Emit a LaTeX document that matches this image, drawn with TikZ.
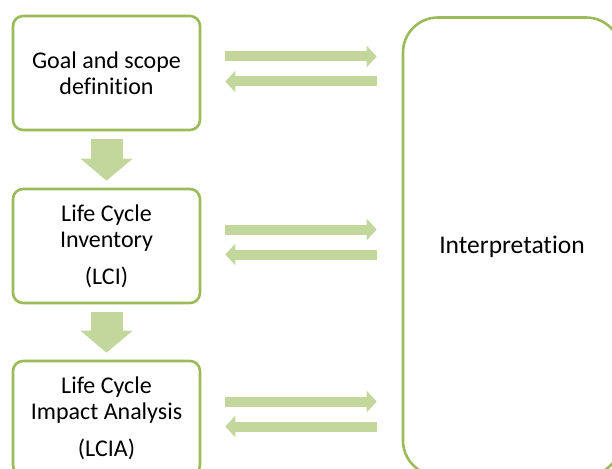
\documentclass[tikz,border=0pt]{standalone}
\usepackage{fontspec}
\setmainfont[Ligatures=NoCommon]{Carlito}
\usetikzlibrary{arrows.meta,calc}
\definecolor{boxgreen}{HTML}{9BBB59}
\definecolor{arrowgreen}{HTML}{C3D69B}
\tikzset{
  stagebox/.style={draw=boxgreen, line width=2.6pt, rounded corners=10pt, fill=white,
    minimum width=187pt, minimum height=114pt, align=center, font=\fontsize{24}{26}\selectfont, inner sep=0pt},
  interpbox/.style={draw=boxgreen, line width=2.6pt, rounded corners=35pt, fill=white,
    minimum width=218pt, minimum height=458pt, font=\fontsize{25.5}{28}\selectfont, inner sep=0pt},
  harrow/.style={draw=arrowgreen, line width=10pt, -{Triangle[width=21pt,length=10pt]}},
  varrow/.style={draw=arrowgreen, line width=32pt, -{Triangle[width=51pt,length=22pt]}}
}
\begin{document}
\begin{tikzpicture}[x=1pt,y=-1pt]
\useasboundingbox (0,0) rectangle (612,468);
\clip (0,0) rectangle (612,468);
\node[stagebox] (goal) at (106.5,73) {Goal and scope\\definition};
\node[stagebox] (lci) at (106.5,246) {Life Cycle\\Inventory\\[11pt](LCI)};
\node[stagebox] (lcia) at (106.5,418) {Life Cycle\\Impact Analysis\\[11pt](LCIA)};
\node[interpbox] (interp) at (512,246.5) {Interpretation};
% vertical arrows
\draw[varrow] ($(goal.south)+(0,8)$) -- ($(lci.north)+(0,-7)$);
\draw[varrow] ($(lci.south)+(0,8)$) -- ($(lcia.north)+(0,-7)$);
% horizontal arrows
\foreach \b in {goal,lci,lcia}{
  \draw[harrow] ($(\b.east)+(24,-16.5)$) -- ($(\b.east -| interp.west)+(-25,-16.5)$);
  \draw[harrow] ($(\b.east -| interp.west)+(-25,8.5)$) -- ($(\b.east)+(24,8.5)$);
}
\end{tikzpicture}
\end{document}
